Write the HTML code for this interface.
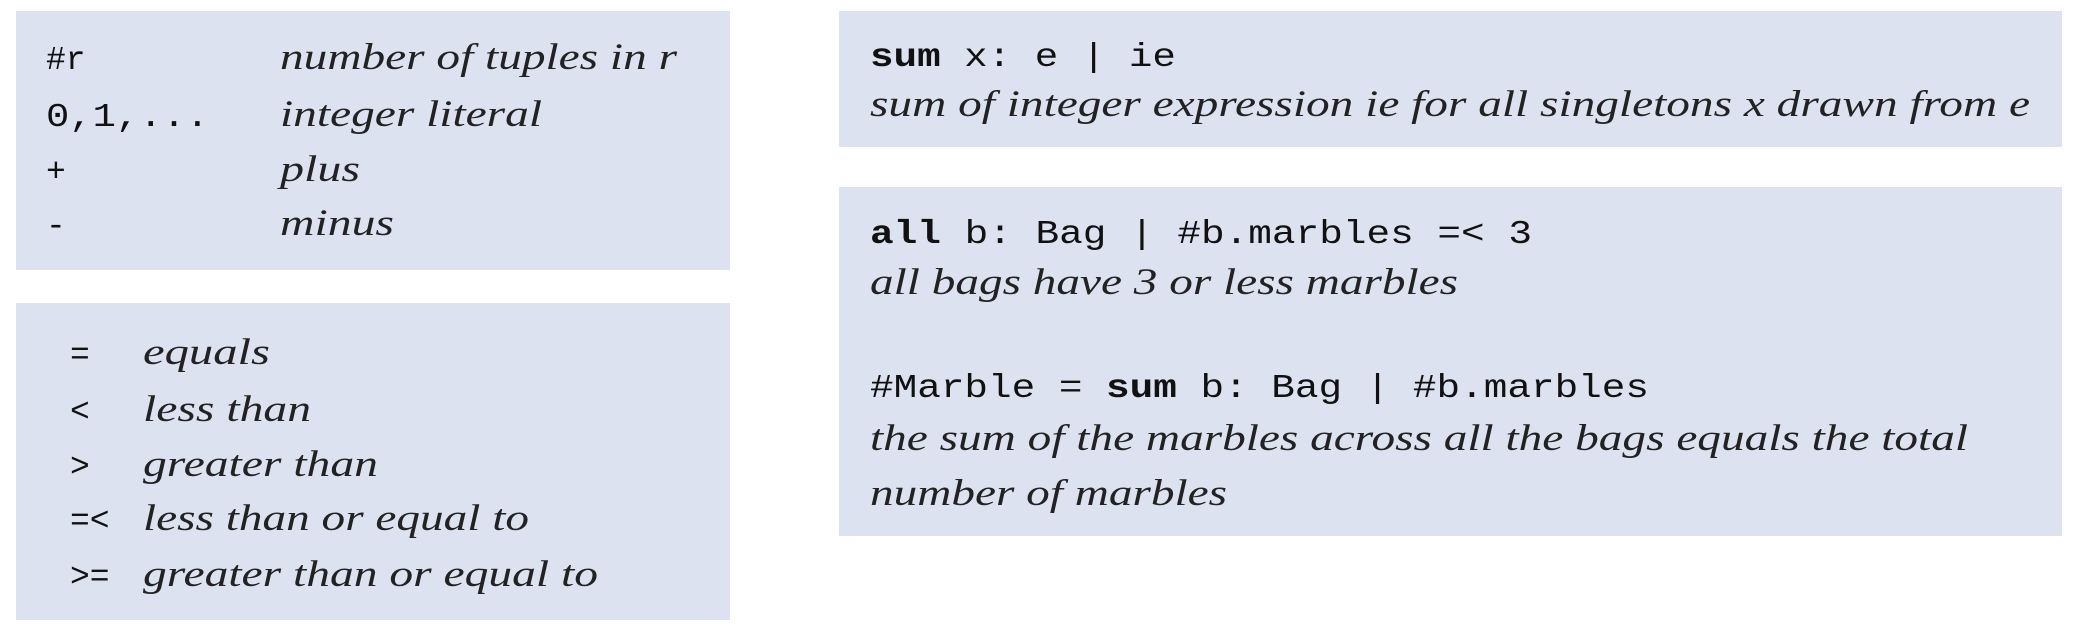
<!DOCTYPE html>
<html><head><meta charset="utf-8"><style>html,body{margin:0;padding:0;background:#fff}svg{display:block}</style></head>
<body>
<svg width="2074" height="640" xmlns="http://www.w3.org/2000/svg">
<g fill="#dde2f0">
<rect x="16" y="11" width="714" height="259"/>
<rect x="16" y="303" width="714" height="317"/>
<rect x="839" y="11" width="1223" height="136"/>
<rect x="839" y="187" width="1223" height="349"/>
</g>
<g font-family="Liberation Mono, monospace" font-size="33" fill="#111">
<text x="46" y="69">#r</text>
<text x="46" y="126" textLength="163" lengthAdjust="spacingAndGlyphs">0,1,...</text>
<text x="46" y="181">+</text>
<text x="46" y="235">-</text>
<text x="70" y="364">=</text>
<text x="70" y="421">&lt;</text>
<text x="70" y="476">&gt;</text>
<text x="70" y="530">=&lt;</text>
<text x="70" y="586">&gt;=</text>
<text x="870" y="66" textLength="306" lengthAdjust="spacingAndGlyphs"><tspan font-weight="bold">sum</tspan> x: e | ie</text>
<text x="870" y="243" textLength="662" lengthAdjust="spacingAndGlyphs"><tspan font-weight="bold">all</tspan> b: Bag | #b.marbles =&lt; 3</text>
<text x="870" y="397" textLength="779" lengthAdjust="spacingAndGlyphs">#Marble = <tspan font-weight="bold">sum</tspan> b: Bag | #b.marbles</text>
</g>
<g font-family="Liberation Serif, serif" font-style="italic" font-size="37" fill="#222">
<text x="280" y="69" textLength="397" lengthAdjust="spacingAndGlyphs">number of tuples in r</text>
<text x="280" y="126" textLength="262" lengthAdjust="spacingAndGlyphs">integer literal</text>
<text x="280" y="181" textLength="80" lengthAdjust="spacingAndGlyphs">plus</text>
<text x="280" y="235" textLength="114" lengthAdjust="spacingAndGlyphs">minus</text>
<text x="143" y="364" textLength="127" lengthAdjust="spacingAndGlyphs">equals</text>
<text x="143" y="421" textLength="168" lengthAdjust="spacingAndGlyphs">less than</text>
<text x="143" y="476" textLength="235" lengthAdjust="spacingAndGlyphs">greater than</text>
<text x="143" y="530" textLength="386" lengthAdjust="spacingAndGlyphs">less than or equal to</text>
<text x="143" y="586" textLength="455" lengthAdjust="spacingAndGlyphs">greater than or equal to</text>
<text x="870" y="116" textLength="1160" lengthAdjust="spacingAndGlyphs">sum of integer expression ie for all singletons x drawn from e</text>
<text x="870" y="294" textLength="588" lengthAdjust="spacingAndGlyphs">all bags have 3 or less marbles</text>
<text x="870" y="450" textLength="1098" lengthAdjust="spacingAndGlyphs">the sum of the marbles across all the bags equals the total</text>
<text x="870" y="505" textLength="357" lengthAdjust="spacingAndGlyphs">number of marbles</text>
</g>
</svg>
</body></html>
